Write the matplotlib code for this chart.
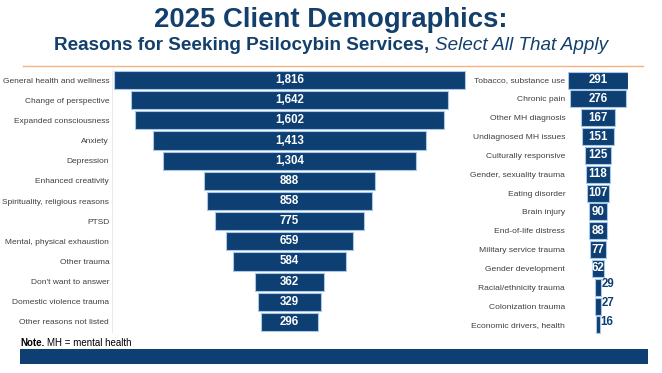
import matplotlib.pyplot as plt
from matplotlib.patches import Rectangle

plt.rcParams['font.family'] = ['Liberation Sans', 'DejaVu Sans']

navy = "#0E3F73"
edge = "#A9C8E8"
grey = "#404040"

left_labels = ["General health and wellness", "Change of perspective", "Expanded consciousness",
               "Anxiety", "Depression", "Enhanced creativity", "Spirituality, religious reasons",
               "PTSD", "Mental, physical exhaustion", "Other trauma", "Don't want to answer",
               "Domestic violence trauma", "Other reasons not listed"]
left_values = [1816, 1642, 1602, 1413, 1304, 888, 858, 775, 659, 584, 362, 329, 296]

right_labels = ["Tobacco, substance use", "Chronic pain", "Other MH diagnosis",
                "Undiagnosed MH issues", "Culturally responsive", "Gender, sexuality trauma",
                "Eating disorder", "Brain injury", "End-of-life distress", "Military service trauma",
                "Gender development", "Racial/ethnicity trauma", "Colonization trauma",
                "Economic drivers, health"]
right_values = [291, 276, 167, 151, 125, 118, 107, 90, 88, 77, 62, 29, 27, 16]

W, H = 662, 373
fig = plt.figure(figsize=(W / 100, H / 100), dpi=100)

def px_axes(x0, y0, x1, y1):
    # pixel box (top-left origin) -> figure axes
    return fig.add_axes([x0 / W, 1 - y1 / H, (x1 - x0) / W, (y1 - y0) / H])

def text_width(s, **kw):
    t = fig.text(0, 0, s, **kw)
    fig.canvas.draw()
    w = t.get_window_extent().width
    t.remove()
    return w

title_col = "#123F6B"

# title block
fig.text(0.5, 1 - 20 / H, "2025 Client Demographics:", ha="center", va="center",
         fontsize=19.8, fontweight="bold", color=title_col)
sub_a = "Reasons for Seeking Psilocybin Services, "
sub_b = "Select All That Apply"
wa = text_width(sub_a, fontsize=13.6, fontweight="bold")
wb = text_width(sub_b, fontsize=13.6, fontstyle="italic")
start = (W - wa - wb) / 2
fig.text(start / W, 1 - 46 / H, sub_a, ha="left", va="center",
         fontsize=13.6, fontweight="bold", color=title_col)
fig.text((start + wa) / W, 1 - 46 / H, sub_b, ha="left", va="center",
         fontsize=13.6, fontstyle="italic", color=title_col)
fig.add_artist(plt.Line2D([23 / W, 643 / W], [1 - 66 / H, 1 - 66 / H], color="#F4B183", lw=1))

# left funnel
ax1 = px_axes(112, 70, 467, 332)
n1 = len(left_values)
ax1.barh(range(n1), left_values, left=[-v / 2 for v in left_values], height=0.9,
         color=navy, edgecolor=edge, linewidth=0.8)
for i, v in enumerate(left_values):
    ax1.text(0, i, f"{v:,}", ha="center", va="center", color="white",
             fontsize=8.3, fontweight="bold")
ax1.set_xlim(-918, 918)
ax1.set_ylim(n1 - 0.5, -0.5)
ax1.set_yticks(range(n1))
ax1.set_yticklabels(left_labels, fontsize=6.0, color=grey)
ax1.tick_params(axis="y", length=0, pad=2)
ax1.set_xticks([])
for s in ["top", "right", "bottom"]:
    ax1.spines[s].set_visible(False)
ax1.spines["left"].set_color("#E6E6E6")
ax1.spines["left"].set_linewidth(0.6)

# right funnel
ax2 = px_axes(568, 70.6, 628, 334.4)
n2 = len(right_values)
ax2.barh(range(n2), right_values, left=[-v / 2 for v in right_values], height=0.9,
         color=navy, edgecolor=edge, linewidth=0.8)
for i, v in enumerate(right_values):
    if v >= 60:
        ax2.text(0, i, f"{v}", ha="center", va="center", color="white",
                 fontsize=8.3, fontweight="bold")
    else:
        ax2.text(v / 2 + 3, i - 0.15, f"{v}", ha="left", va="center", color=navy,
                 fontsize=8.3, fontweight="bold")
ax2.set_xlim(-145.5, 145.5)
ax2.set_ylim(n2 - 0.5, -0.5)
ax2.set_yticks(range(n2))
ax2.set_yticklabels(right_labels, fontsize=6.1, color=grey)
ax2.tick_params(axis="y", length=0, pad=2)
ax2.set_xticks([])
for s in ax2.spines.values():
    s.set_visible(False)

# note and footer bar
note_b = "Note."
wn = text_width(note_b + " ", fontsize=7, fontweight="bold")
fig.text(20 / W, 1 - 343 / H, note_b, ha="left", va="center",
         fontsize=7, fontweight="bold", color="black")
fig.text((20 + wn) / W, 1 - 343 / H, "MH = mental health", ha="left", va="center",
         fontsize=7, color="black")
fig.add_artist(Rectangle((20 / W, 1 - 364 / H), 628 / W, 15 / H, transform=fig.transFigure,
                         color=navy, lw=0))

fig.savefig("out.png", dpi=100)
